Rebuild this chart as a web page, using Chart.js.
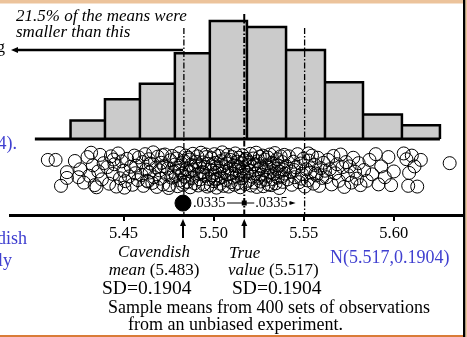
<!DOCTYPE html>
<html>
<head>
<meta charset="utf-8">
<script src="https://cdn.jsdelivr.net/npm/chart.js@4.4.1/dist/chart.umd.min.js"></script>
<style>
html, body { margin: 0; padding: 0; background: #fff; overflow: hidden; }
</style>
</head>
<body>
<canvas id="chart" width="467" height="337"></canvas>
<script>
// histogram of the 400 sample means
const binEdges = [5.4206, 5.4397, 5.4591, 5.4785, 5.4979, 5.5185, 5.5402, 5.5618, 5.5829, 5.6045, 5.6256];
const binCounts = [12, 26, 36, 56, 77, 73, 58, 37, 16, 9];
const baseRange = [5.4008, 5.6256];
const xTicks = [5.45, 5.50, 5.55, 5.60];

const cavendishMean = 5.483;
const trueValue = 5.517;
const meanGap = 0.0335;

// [mean, vertical jitter 0..10]
const sampleMeans = [
  [5.408,7.8],[5.4123,7.8],[5.4186,4.4],[5.4186,2.8],[5.4153,0.6],
  [5.423,7.5],[5.426,5.2],[5.428,1.5],[5.430,8.6],[5.431,3.4],[5.433,6.3],[5.434,0.8],[5.436,4.6],
  [5.437,9.2],[5.438,2.4],[5.439,6.9],[5.425,3.0],[5.432,9.8],[5.435,0.2],
  [5.441,5.8],[5.442,1.2],[5.443,8.8],[5.444,3.9],[5.445,6.6],[5.446,0.4],[5.447,9.6],[5.448,2.7],
  [5.449,7.4],[5.450,4.8],[5.451,1.9],[5.452,8.1],[5.453,3.2],[5.454,5.9],[5.455,0.9],[5.456,9.0],
  [5.457,6.2],[5.458,2.2],[5.4445,7.9],[5.4505,0.1],[5.4565,4.1],[5.4585,8.5],
  [5.460,3.6],[5.4605,7.2],[5.461,0.6],[5.462,9.4],[5.4625,5.1],[5.463,2.0],[5.464,8.0],[5.4645,4.3],
  [5.465,6.8],[5.466,1.4],[5.4665,9.9],[5.467,3.0],[5.468,5.7],[5.4685,0.3],[5.469,8.7],[5.470,4.9],
  [5.4705,2.6],[5.471,7.0],[5.472,1.0],[5.4725,6.1],[5.473,9.3],[5.474,3.8],[5.4745,5.4],[5.475,0.0],
  [5.476,7.7],[5.4765,2.9],[5.477,8.9],[5.478,4.5],[5.4785,6.5],[5.4635,1.8],[5.4715,9.1],[5.4755,0.8],
  [5.479,3.3],[5.4795,8.2],[5.480,0.5],[5.4805,5.6],[5.481,9.7],[5.4815,2.1],[5.482,6.9],[5.4825,4.0],
  [5.483,0.9],[5.4835,7.6],[5.484,3.1],[5.4845,9.0],[5.485,5.3],[5.4855,1.7],[5.486,8.4],[5.4865,4.7],
  [5.487,0.2],[5.4875,6.4],[5.488,2.8],[5.4885,9.5],[5.489,5.0],[5.4895,1.3],[5.490,7.3],[5.4905,3.7],
  [5.491,8.8],[5.4915,0.7],[5.492,6.0],[5.4925,2.4],[5.493,9.8],[5.4935,4.4],[5.494,7.1],[5.4945,1.0],
  [5.495,5.8],[5.4955,3.4],[5.496,8.6],[5.4965,0.4],[5.497,6.7],[5.4975,2.5],[5.4812,4.9],[5.4868,7.9],
  [5.4922,3.9],[5.4958,9.3],[5.4838,1.5],[5.4898,6.2],[5.4942,4.3],
  [5.498,5.1],[5.4984,0.8],[5.4988,8.3],[5.4992,3.5],[5.4996,6.6],[5.500,1.9],[5.5004,9.4],[5.5008,4.2],
  [5.5012,7.0],[5.5016,0.1],[5.502,5.7],[5.5024,2.6],[5.5028,8.9],[5.5032,4.8],[5.5036,1.2],[5.504,7.5],
  [5.5044,3.0],[5.5048,9.9],[5.5052,6.1],[5.5056,0.6],[5.506,4.5],[5.5064,8.0],[5.5068,2.2],[5.5072,6.8],
  [5.5076,3.8],[5.508,9.2],[5.5084,0.4],[5.5088,5.4],[5.5092,7.8],[5.5096,1.6],[5.510,4.0],[5.5104,8.6],
  [5.5108,2.9],[5.5112,6.3],[5.5116,0.9],[5.512,9.6],[5.5124,5.0],[5.5128,3.3],[5.5132,7.3],[5.5136,1.4],
  [5.514,8.4],[5.5144,4.6],[5.5148,0.2],[5.5152,6.9],[5.5156,2.7],[5.516,9.1],[5.5164,5.5],[5.5168,3.6],
  [5.5172,7.7],[5.5176,1.1],[5.518,8.1],[5.5184,4.3],[5.5188,6.4],[5.5010,2.4],[5.5138,5.9],
  [5.5192,2.0],[5.5196,7.1],[5.520,4.7],[5.5204,9.5],[5.5208,0.7],[5.5212,5.9],[5.5216,3.1],[5.522,8.2],
  [5.5224,1.5],[5.5228,6.6],[5.5232,4.1],[5.5236,9.8],[5.524,0.3],[5.5244,7.4],[5.5248,2.8],[5.5252,5.2],
  [5.5256,8.7],[5.526,1.8],[5.5264,6.0],[5.5268,3.7],[5.5272,9.0],[5.5276,0.5],[5.528,4.9],[5.5284,7.9],
  [5.5288,2.3],[5.5292,6.3],[5.5296,3.4],[5.530,8.5],[5.5304,1.0],[5.5308,5.6],[5.5312,9.3],[5.5316,4.4],
  [5.532,0.8],[5.5324,7.0],[5.5328,2.5],[5.5332,6.7],[5.5336,3.9],[5.534,9.7],[5.5344,1.3],[5.5348,5.3],
  [5.5352,8.0],[5.5356,2.9],[5.536,6.2],[5.5364,0.0],[5.5368,4.5],[5.5372,8.8],[5.5376,3.2],[5.538,7.2],
  [5.5384,1.7],[5.5388,5.0],[5.5392,9.2],[5.5396,4.0],
  [5.5402,6.1],[5.541,2.4],[5.5418,8.8],[5.5426,4.6],[5.5434,0.9],[5.5442,7.3],[5.545,3.0],[5.5458,5.7],
  [5.5466,9.4],[5.5474,1.6],[5.5482,6.8],[5.549,3.9],[5.5498,8.1],[5.5506,0.4],[5.5514,5.2],[5.5522,2.1],
  [5.553,7.6],[5.5538,4.3],[5.5546,9.0],[5.5554,1.2],[5.5562,6.4],[5.557,3.5],[5.5578,8.4],[5.5586,0.6],
  [5.5594,5.5],[5.5602,2.8],[5.561,7.0],[5.5618,4.8],[5.5446,5.0],[5.5486,2.6],[5.5526,9.6],[5.5566,4.0],
  [5.5625,3.0],[5.5635,7.8],[5.5645,5.2],[5.5655,1.0],[5.5665,8.9],[5.5675,4.1],[5.5685,6.6],[5.5695,2.0],
  [5.5705,9.3],[5.5715,5.8],[5.5725,0.3],[5.5735,7.2],[5.5745,3.6],[5.5755,6.0],[5.5765,1.5],[5.5775,8.4],
  [5.5785,4.5],[5.5795,2.6],[5.5805,6.9],[5.5815,0.8],
  [5.5835,5.0],[5.585,2.0],[5.5865,7.8],[5.588,3.8],[5.590,9.4],[5.5915,1.0],[5.593,6.0],[5.595,3.0],
  [5.597,8.6],[5.5985,0.8],[5.600,4.6],
  [5.6055,9.6],[5.607,8.0],[5.6085,4.2],[5.610,9.0],[5.6115,6.0],[5.608,0.6],[5.613,0.4],[5.615,7.8],
  [5.631,6.9]
];

const serif = '"Liberation Serif", "DejaVu Serif", serif';
const blue = '#4040d0';

// outline of the histogram: every bar goes back down to the baseline
const histPts = [{ x: binEdges[0], y: 0 }];
binCounts.forEach((c, i) => {
  histPts.push({ x: binEdges[i], y: c }, { x: binEdges[i + 1], y: c }, { x: binEdges[i + 1], y: 0 });
});

const yMin = -49.6;
const dashDot = [6, 2, 1.5, 2];

function arrowHead(c, x, y, dir, len, half) {
  // dir: 'left' | 'right' | 'up'
  c.beginPath();
  if (dir === 'left') { c.moveTo(x, y); c.lineTo(x + len, y - half); c.lineTo(x + len, y + half); }
  if (dir === 'right') { c.moveTo(x, y); c.lineTo(x - len, y - half); c.lineTo(x - len, y + half); }
  if (dir === 'up') { c.moveTo(x, y); c.lineTo(x - half, y + len); c.lineTo(x + half, y + len); }
  c.closePath();
  c.fill();
}

function line(c, x1, y1, x2, y2, w) {
  c.lineWidth = w;
  c.beginPath();
  c.moveTo(x1, y1);
  c.lineTo(x2, y2);
  c.stroke();
}

const decor = {
  id: 'decor',
  beforeDraw(chart) {
    const c = chart.ctx;
    c.save();
    c.fillStyle = '#fff';
    c.fillRect(0, 0, chart.width, chart.height);
    c.restore();
  },
  afterDraw(chart) {
    const c = chart.ctx;
    const xs = chart.scales.x;
    const xCav = xs.getPixelForValue(cavendishMean);
    const xTrue = xs.getPixelForValue(trueValue);
    const xHigh = xs.getPixelForValue(trueValue + meanGap);
    c.save();
    c.fillStyle = '#000';
    c.strokeStyle = '#000';
    c.textBaseline = 'alphabetic';

    // top note and arrow
    c.font = 'italic 17px ' + serif;
    c.textAlign = 'left';
    c.fillText('21.5% of the means were', 16, 21);
    c.fillText('smaller than this', 16, 37);
    line(c, xCav, 50, 17, 50, 2.5);
    arrowHead(c, 11, 50, 'left', 7, 3);
    c.font = '17px ' + serif;
    c.textAlign = 'right';
    c.fillText('g', 5, 52);

    // .0335 distances
    c.font = '14.5px ' + serif;
    c.textAlign = 'left';
    c.fillText('.0335', xCav + 10, 207);
    c.fillText('.0335', xTrue + 11, 207);
    line(c, xCav + 44, 203, xTrue - 2, 203, 1);
    line(c, xTrue + 2, 203, xTrue + 10, 203, 1);
    c.fillRect(xTrue - 2.5, 200.5, 5, 5);
    line(c, xTrue + 45, 203, xHigh - 12, 203, 1);
    arrowHead(c, xHigh - 9, 203, 'right', 6, 2);

    // arrows under the axis
    line(c, xCav, 238, xCav, 224, 2);
    arrowHead(c, xCav, 219, 'up', 7, 3);
    line(c, xTrue, 238, xTrue, 224, 2);
    arrowHead(c, xTrue, 219, 'up', 7, 3);

    // labels under the arrows
    c.textAlign = 'center';
    c.font = 'italic 17px ' + serif;
    c.fillText('Cavendish', 154, 257);
    c.textAlign = 'left';
    c.font = 'italic 17px ' + serif;
    let w = c.measureText('mean ').width;
    c.font = '17px ' + serif;
    const w2 = c.measureText('(5.483)').width;
    let x0 = 154 - (w + w2) / 2;
    c.font = 'italic 17px ' + serif;
    c.fillText('mean ', x0, 275);
    c.font = '17px ' + serif;
    c.fillText('(5.483)', x0 + w, 275);

    c.font = 'italic 17px ' + serif;
    c.fillText('True', 229, 258);
    c.fillText('value ', 228, 275);
    w = c.measureText('value ').width;
    c.font = '17px ' + serif;
    c.fillText('(5.517)', 228 + w, 275);

    c.font = '19.5px ' + serif;
    c.fillText('SD=0.1904', 102, 294);
    c.fillText('SD=0.1904', 232, 294);

    c.font = '18px ' + serif;
    c.fillText('Sample means from 400 sets of observations', 108, 313);
    c.fillText('from an unbiased experiment.', 128, 330);

    // blue text
    c.fillStyle = blue;
    c.font = '18px ' + serif;
    c.fillText('N(5.517,0.1904)', 330, 263);
    c.textAlign = 'right';
    c.fillText('4).', 17, 149);
    c.fillText('dish', 27, 244);
    c.fillText('ly', 12, 266);

    // slide frame bits
    c.fillStyle = '#ecc39b';
    c.fillRect(0, 0, 463, 3.5);
    c.fillRect(465.3, 0, 2, 337);
    c.fillStyle = '#000';
    c.fillRect(463, 0, 2.3, 337);
    c.fillStyle = '#d97c38';
    c.fillRect(0, 335, 463, 2);
    c.restore();
  }
};

new Chart(document.getElementById('chart'), {
  type: 'scatter',
  data: {
    datasets: [
      {
        data: [{ x: cavendishMean, y: -4.2 }],
        yAxisID: 'yj',
        pointRadius: 8,
        pointBackgroundColor: '#000',
        pointBorderColor: '#000',
        order: 1
      },
      {
        data: sampleMeans.map(p => ({ x: p[0], y: p[1] })),
        yAxisID: 'yj',
        pointRadius: 6.5,
        pointBorderWidth: 1,
        pointBorderColor: '#000',
        pointBackgroundColor: 'rgba(0,0,0,0)',
        order: 2
      },
      {
        data: [{ x: trueValue - meanGap, y: 72.4 }, { x: trueValue - meanGap, y: yMin }],
        yAxisID: 'y', showLine: true, pointRadius: 0,
        borderColor: '#000', borderWidth: 1.3, borderDash: dashDot,
        order: 3
      },
      {
        data: [{ x: trueValue, y: 81.6 }, { x: trueValue, y: yMin }],
        yAxisID: 'y', showLine: true, pointRadius: 0,
        borderColor: '#000', borderWidth: 2, borderDash: dashDot,
        order: 3
      },
      {
        data: [{ x: trueValue + meanGap, y: 72.4 }, { x: trueValue + meanGap, y: yMin }],
        yAxisID: 'y', showLine: true, pointRadius: 0,
        borderColor: '#000', borderWidth: 1.3, borderDash: dashDot,
        order: 3
      },
      {
        data: [{ x: baseRange[0], y: 0 }, { x: baseRange[1], y: 0 }],
        yAxisID: 'y', showLine: true, pointRadius: 0,
        borderColor: '#000', borderWidth: 3,
        order: 4
      },
      {
        data: histPts,
        yAxisID: 'y', showLine: true, pointRadius: 0,
        borderColor: '#000', borderWidth: 2.5, borderJoinStyle: 'miter',
        backgroundColor: '#cbcbcb', fill: 'origin', tension: 0,
        order: 5
      }
    ]
  },
  options: {
    responsive: false,
    animation: false,
    events: [],
    layout: { autoPadding: false, padding: { left: 10, right: 4, top: 0, bottom: 0 } },
    plugins: { legend: { display: false }, tooltip: { enabled: false } },
    scales: {
      x: {
        type: 'linear',
        position: 'bottom',
        min: 5.387,
        max: 5.6384,
        afterFit(s) { s.height = 122; },
        afterBuildTicks(s) { s.ticks = xTicks.map(v => ({ value: v })); },
        ticks: {
          callback: v => v.toFixed(2),
          color: '#000',
          font: { family: serif, size: 16.5 },
          padding: 3,
          maxRotation: 0,
          autoSkip: false
        },
        grid: { display: true, drawOnChartArea: false, drawTicks: true, tickLength: 6, color: '#000', lineWidth: 2 },
        border: { display: true, color: '#000', width: 3 }
      },
      y: { display: false, min: yMin, max: 90.7 },
      yj: { display: false, min: -7.5, max: 52.22 }
    }
  },
  plugins: [decor]
});
</script>
</body>
</html>
